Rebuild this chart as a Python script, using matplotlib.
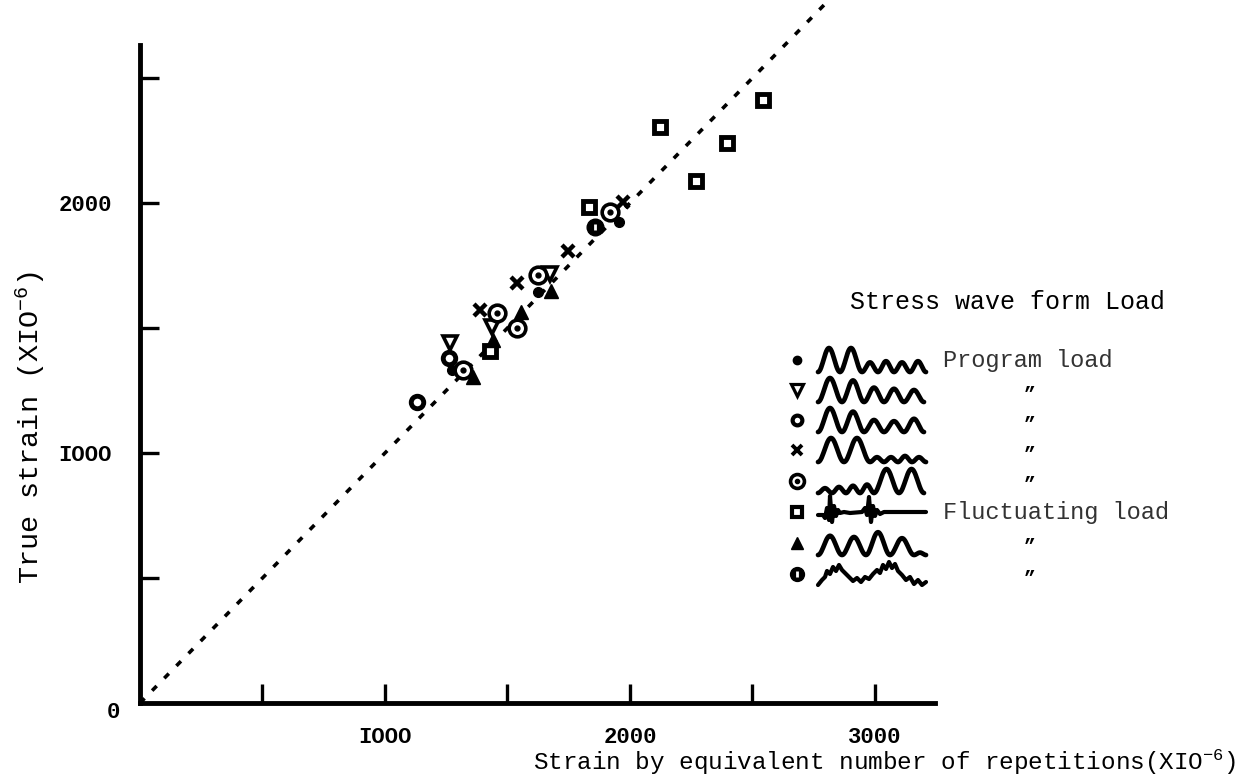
import numpy as np
import matplotlib
matplotlib.use("Agg")
import matplotlib.pyplot as plt

plt.rcParams["font.family"] = ["Liberation Mono", "DejaVu Sans Mono"]
plt.rcParams["mathtext.default"] = "regular"

# ------------------------------
# Data (strain x 10^-6)
# ------------------------------
dot_x = [1955, 1624, 1273]
dot_y = [1924, 1644, 1332]
tri_down_x = [1265, 1437, 1673]
tri_down_y = [1440, 1504, 1716]
circ_x = [1261, 1131]
circ_y = [1380, 1204]
cross_x = [1388, 1539, 1747, 1971]
cross_y = [1572, 1680, 1808, 2004]
ring_x = [1318, 1457, 1539, 1624, 1918]
ring_y = [1332, 1560, 1500, 1712, 1964]
square_x = [1429, 1833, 2122, 2269, 2396, 2543]
square_y = [1408, 1984, 2304, 2088, 2240, 2412]
tri_up_x = [1359, 1441, 1555, 1678]
tri_up_y = [1304, 1452, 1564, 1648]
half_x = [1857]
half_y = [1904]

x_ticks = [500, 1000, 1500, 2000, 2500, 3000]
x_ticklabels = ["", "IOOO", "", "2000", "", "3000"]
y_ticks = [500, 1000, 1500, 2000, 2500]
y_ticklabels = ["", "IOOO", "", "2000", ""]

# legend wave sketches: (hump width, relative height)
wave_1 = [(22, 1.0), (22, 1.0), (16, 0.4), (16, 0.45), (16, 0.4), (16, 0.45)]
wave_2 = [(24, 1.0), (22, 0.9), (20, 0.6), (20, 0.55), (20, 0.5)]
wave_3 = [(24, 1.0), (22, 0.85), (20, 0.5), (20, 0.45), (20, 0.55)]
wave_4 = [(26, 1.0), (26, 1.0), (14, 0.2), (14, 0.2), (14, 0.25), (14, 0.2)]
wave_5 = [(14, 0.2), (14, 0.25), (14, 0.3), (14, 0.35), (25, 1.0), (25, 1.0)]
wave_7 = [(24, 0.8), (24, 0.75), (24, 0.95), (24, 0.7), (12, 0.1)]
# hand traced (dx, dy) for the irregular ones
wave_6 = [(0, 3), (5, 3), (7, 6), (9, -4), (11, 8), (12, -16), (14, 10), (16, -6),
          (18, 4), (20, -2), (22, 1), (26, 0), (32, 1), (44, 0), (47, -4), (49, 3),
          (51, -15), (53, 10), (55, -6), (57, 4), (59, -2), (62, 2), (66, 0), (80, 0),
          (108, 0)]
wave_8 = [(0, 11), (4, 6), (7, 3), (9, -3), (12, 0), (15, -7), (18, -3), (21, -9),
          (24, -4), (27, -1), (31, 3), (35, 7), (39, 4), (43, 8), (47, 3), (51, 5),
          (55, 0), (59, -4), (62, -1), (65, -9), (68, -5), (71, -12), (74, -6), (77, -10),
          (80, -3), (84, 1), (88, 6), (92, 3), (96, 10), (100, 6), (104, 11), (108, 8)]


def hump_wave(x0, yc, humps, h=24):
    xs, ys = [], []
    x = x0
    for w, a in humps:
        t = np.linspace(0, 1, 30)
        xs.extend(x + w * t)
        ys.extend(yc + h / 2 - a * h * (1 - np.cos(2 * np.pi * t)) / 2)
        x += w
    return xs, ys


def traced_wave(x0, yc, pts):
    return [x0 + p[0] for p in pts], [yc + p[1] for p in pts]


# ------------------------------
# Figure
# ------------------------------
fig = plt.figure(figsize=(12.5, 7.77), dpi=100)
ax = fig.add_axes([140 / 1250, 74 / 777, 795 / 1250, 658 / 777])
ax.set_xlim(0, 3245)
ax.set_ylim(0, 2632)

# 1:1 line
ax.plot([0, 2810], [0, 2810], color="black", lw=2.6, linestyle=(0, (1.8, 3.0)),
        clip_on=False, zorder=1)

k = dict(color="black", linestyle="none", clip_on=False, zorder=3)
ax.plot(dot_x, dot_y, marker="o", ms=7, **k)
ax.plot(tri_down_x, tri_down_y, marker="v", ms=10, mfc="white", mew=2.6, **k)
ax.plot(circ_x, circ_y, marker="o", ms=9, mfc="white", mew=3.5, **k)
ax.plot(cross_x, cross_y, marker="x", ms=9, mew=3.2, **k)
ax.plot(ring_x, ring_y, marker="o", ms=12, mfc="white", mew=2.6, **k)
ax.plot(ring_x, ring_y, marker="o", ms=3.5, **k)
ax.plot(square_x, square_y, marker="s", ms=9, mfc="white", mew=3.5, **k)
ax.plot(tri_up_x, tri_up_y, marker="^", ms=10, **k)
ax.plot(half_x, half_y, marker="o", ms=12, **k)
ax.plot(half_x, half_y, marker="|", ms=5, mew=2, color="white", linestyle="none",
        clip_on=False, zorder=4)

for s in ["top", "right"]:
    ax.spines[s].set_visible(False)
for s in ["left", "bottom"]:
    ax.spines[s].set_linewidth(3.5)

ax.set_xticks(x_ticks)
ax.set_xticklabels(x_ticklabels, fontsize=16, fontweight="bold")
ax.set_yticks(y_ticks)
ax.set_yticklabels(y_ticklabels, fontsize=16, fontweight="bold")
ax.tick_params(axis="both", direction="in", length=14, width=2.4)
ax.tick_params(axis="x", pad=17)
ax.tick_params(axis="y", pad=20)

# ------------------------------
# Overlay in pixel coordinates for labels and the legend
# ------------------------------
ov = fig.add_axes([0, 0, 1, 1], zorder=5)
ov.set_xlim(0, 1250)
ov.set_ylim(777, 0)
ov.axis("off")
ov.patch.set_alpha(0)

ov.text(113, 712, "0", fontsize=16, fontweight="bold", ha="center", va="center")
ov.text(30, 428, "True strain (XIO$^{-6}$)", fontsize=20.5, rotation=90,
        ha="center", va="center")
ov.text(1236, 770, "Strain by equivalent number of repetitions(XIO$^{-6}$)",
        fontsize=17.5, ha="right", va="baseline")

ov.text(1008, 302, "Stress wave form Load", fontsize=18, ha="center", va="center")

rows = [360, 390, 420, 450, 481, 512, 543, 574]
mx, wx, tx, dx = 797, 818, 943, 1030
lk = dict(color="black", linestyle="none")
ov.plot(mx, rows[0], marker="o", ms=6, **lk)
ov.plot(mx, rows[1], marker="v", ms=8, mfc="white", mew=2.3, **lk)
ov.plot(mx, rows[2], marker="o", ms=7, mfc="white", mew=3, **lk)
ov.plot(mx, rows[3], marker="x", ms=7, mew=2.8, **lk)
ov.plot(mx, rows[4], marker="o", ms=10, mfc="white", mew=2.6, **lk)
ov.plot(mx, rows[4], marker="o", ms=3, **lk)
ov.plot(mx, rows[5], marker="s", ms=7, mfc="white", mew=3, **lk)
ov.plot(mx, rows[6], marker="^", ms=8, **lk)
ov.plot(mx, rows[7], marker="o", ms=10, **lk)
ov.plot(mx, rows[7], marker="|", ms=4, mew=2, color="white", linestyle="none")

for r, w in zip([0, 1, 2, 3, 4, 6], [wave_1, wave_2, wave_3, wave_4, wave_5, wave_7]):
    xs, ys = hump_wave(wx, rows[r], w)
    ov.plot(xs, ys, color="black", lw=3.4, solid_capstyle="round")
for r, w in [(5, wave_6), (7, wave_8)]:
    xs, ys = traced_wave(wx, rows[r], w)
    ov.plot(xs, ys, color="black", lw=3.0, solid_capstyle="round", solid_joinstyle="round")

ov.text(tx, rows[0], "Program load", fontsize=17, color="#333333", va="center")
ov.text(tx, rows[5], "Fluctuating load", fontsize=17, color="#333333", va="center")
for r in [1, 2, 3, 4, 6, 7]:
    ov.text(dx, rows[r] + 4, "\u201d", fontsize=14, fontweight="bold",
            ha="center", va="center")

fig.savefig("out.png", dpi=100)
